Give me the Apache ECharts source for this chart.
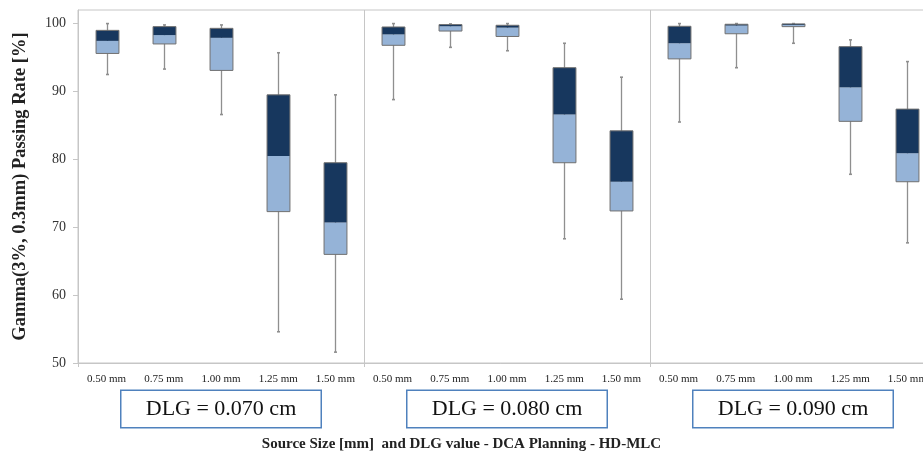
<!DOCTYPE html>
<html>
<head>
<meta charset="utf-8">
<script src="https://cdn.jsdelivr.net/npm/echarts@6/dist/echarts.min.js"></script>
<style>
  html, body { margin: 0; padding: 0; background: #fff; }
  #chart { width: 923px; height: 454px; }
</style>
</head>
<body>
<div id="chart"></div>
<script>
// Source sizes repeated inside each DLG panel
const sourceSizes = ['0.50 mm', '0.75 mm', '1.00 mm', '1.25 mm', '1.50 mm'];
const dlgLabels = ['DLG = 0.070 cm', 'DLG = 0.080 cm', 'DLG = 0.090 cm'];
const yTicks = [50, 60, 70, 80, 90, 100];

// Box statistics, 15 entries: DLG 0.070 (5 sizes), DLG 0.080 (5), DLG 0.090 (5)
const whiskerLow  = [92.5, 93.3, 86.6, 54.6, 51.6,  88.8, 96.5, 96.0, 68.3, 59.4,  85.5, 93.5, 97.1, 77.8, 67.7];
const quartile1   = [95.6, 97.0, 93.1, 72.3, 66.0,  96.8, 98.9, 98.1, 79.5, 72.4,  94.8, 98.5, 99.55, 85.6, 76.7];
const medians     = [97.45, 98.3, 97.9, 80.5, 70.7, 98.4, 99.6, 99.4, 86.6, 76.7,  97.1, 99.7, 99.8, 90.6, 80.9];
const quartile3   = [99.0, 99.55, 99.3, 89.5, 79.5, 99.5, 99.85, 99.75, 93.5, 84.2, 99.6, 99.9, 99.95, 96.6, 87.4];
const whiskerHigh = [100, 99.8, 99.8, 95.7, 89.5,   100, 99.95, 100, 97.1, 92.1,    100, 100, 100, 97.6, 94.4];

const categories = dlgLabels.flatMap(() => sourceSizes);
const boxData = categories.map((_, i) => [i, whiskerLow[i], quartile1[i], medians[i], quartile3[i], whiskerHigh[i]]);

const SERIF = "'Liberation Serif', 'Times New Roman', serif";
const LIGHT = '#95b3d7';
const DARK = '#17375e';
const BOX_EDGE = '#707070';
const WHISKER = '#8f8f8f';
const FRAME = '#c6c6c6';

function renderBox(params, api) {
  const i = api.value(0);
  const band = api.size([1, 0])[0];
  const w = band * 0.4;
  const pLow = api.coord([i, api.value(1)]);
  const pQ1 = api.coord([i, api.value(2)]);
  const pMed = api.coord([i, api.value(3)]);
  const pQ3 = api.coord([i, api.value(4)]);
  const pHigh = api.coord([i, api.value(5)]);
  const x = Math.round(pMed[0]) + 0.5;
  const left = x - w / 2;
  const cap = 1.5;
  return {
    type: 'group',
    children: [
      { type: 'line', shape: { x1: x, y1: pHigh[1], x2: x, y2: pLow[1] }, style: { stroke: WHISKER, lineWidth: 1.3 } },
      { type: 'line', shape: { x1: x - cap, y1: pHigh[1], x2: x + cap, y2: pHigh[1] }, style: { stroke: WHISKER, lineWidth: 1.6 } },
      { type: 'line', shape: { x1: x - cap, y1: pLow[1], x2: x + cap, y2: pLow[1] }, style: { stroke: WHISKER, lineWidth: 1.6 } },
      { type: 'rect', shape: { x: left, y: pMed[1], width: w, height: pQ1[1] - pMed[1] }, style: { fill: LIGHT } },
      { type: 'rect', shape: { x: left, y: pQ3[1], width: w, height: pMed[1] - pQ3[1] }, style: { fill: DARK } },
      { type: 'rect', shape: { x: left, y: pQ3[1], width: w, height: pQ1[1] - pQ3[1] }, style: { fill: 'none', stroke: BOX_EDGE, lineWidth: 1 } }
    ]
  };
}

const chart = echarts.init(document.getElementById('chart'), null, { renderer: 'canvas' });
chart.setOption({
  animation: false,
  backgroundColor: '#fff',
  title: {
    text: 'Source Size [mm]  and DLG value - DCA Planning - HD-MLC',
    left: 'center',
    top: 432,
    textStyle: { fontFamily: SERIF, fontWeight: 'bold', fontSize: 15, color: '#222' }
  },
  grid: {
    left: 78, top: 10, width: 858, height: 353,
    outerBoundsMode: 'none',
    containLabel: false,
    show: true, borderColor: FRAME, borderWidth: 1, backgroundColor: 'transparent'
  },
  xAxis: [
    {
      type: 'category',
      data: categories,
      boundaryGap: true,
      axisLine: { lineStyle: { color: FRAME } },
      axisTick: { show: false },
      axisLabel: { interval: 0, margin: 11, fontFamily: SERIF, fontSize: 11, color: '#222' },
      splitLine: { show: false }
    },
    {
      type: 'category',
      data: dlgLabels,
      position: 'bottom',
      boundaryGap: true,
      axisLine: { show: false },
      axisTick: { show: true, length: 4, lineStyle: { color: FRAME } },
      splitLine: { show: true, lineStyle: { color: FRAME, width: 1 } },
      axisLabel: {
        interval: 0, margin: 28,
        fontFamily: SERIF, fontSize: 22, color: '#111',
        width: 199, lineHeight: 24, align: 'center',
        padding: [6, 0, 6, 0],
        borderColor: '#4f81bd', borderWidth: 1.5, backgroundColor: '#fff'
      }
    }
  ],
  yAxis: {
    type: 'value',
    min: 50, max: 102, interval: 10,
    name: 'Gamma(3%, 0.3mm) Passing Rate [%]',
    nameLocation: 'middle',
    nameGap: 48,
    nameTextStyle: { fontFamily: SERIF, fontWeight: 'bold', fontSize: 18.5, color: '#222' },
    axisLine: { show: true, lineStyle: { color: FRAME } },
    axisTick: { show: true, length: 5, customValues: yTicks, lineStyle: { color: FRAME } },
    axisLabel: { customValues: yTicks, margin: 12, fontFamily: SERIF, fontSize: 14, color: '#333' },
    splitLine: { show: false }
  },
  series: [{
    type: 'custom',
    xAxisIndex: 0,
    renderItem: renderBox,
    encode: { x: 0, y: [1, 2, 3, 4, 5] },
    data: boxData
  }]
});
</script>
</body>
</html>
